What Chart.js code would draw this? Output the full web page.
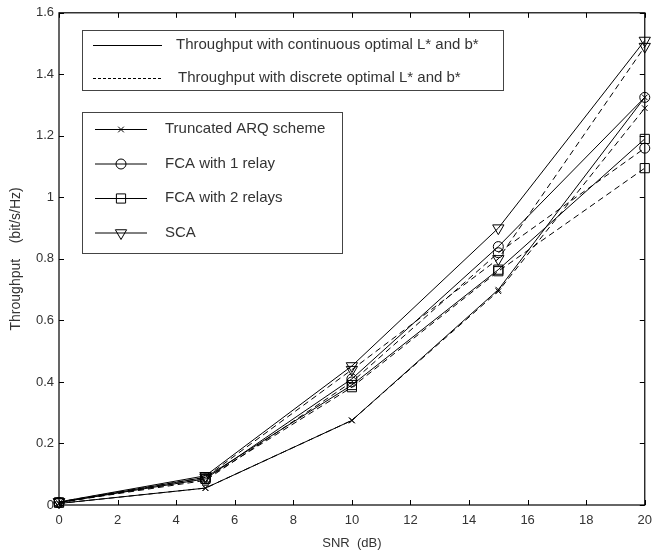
<!DOCTYPE html>
<html>
<head>
<meta charset="utf-8">
<script src="https://cdn.jsdelivr.net/npm/chart.js@4/dist/chart.umd.min.js"></script>
<style>
  html, body { margin: 0; padding: 0; background: #fff; }
  #wrap { width: 660px; height: 553px; position: relative; }
</style>
</head>
<body>
<div id="wrap"><canvas id="chart"></canvas></div>
<script>
'use strict';

/* ── data ── */
const snr        = [0, 5, 10, 15, 20];
const yTicks     = [0, 0.2, 0.4, 0.6, 0.8, 1, 1.2, 1.4, 1.6];
const xTicks     = [0, 2, 4, 6, 8, 10, 12, 14, 16, 18, 20];

const arqCont    = [0.005, 0.055, 0.275, 0.700, 1.325];
const arqDisc    = [0.005, 0.055, 0.275, 0.695, 1.290];
const fca1Cont   = [0.008, 0.085, 0.410, 0.840, 1.325];
const fca1Disc   = [0.008, 0.080, 0.400, 0.820, 1.160];
const fca2Cont   = [0.008, 0.090, 0.390, 0.765, 1.190];
const fca2Disc   = [0.008, 0.085, 0.383, 0.760, 1.095];
const scaCont    = [0.010, 0.095, 0.452, 0.900, 1.510];
const scaDisc    = [0.010, 0.090, 0.440, 0.800, 1.490];

const schemeNames = ['Truncated ARQ scheme', 'FCA with 1 relay', 'FCA with 2 relays', 'SCA'];
const styleNames  = ['Throughput with continuous optimal L* and b*', 'Throughput with discrete optimal L* and b*'];

/* ── marker styles ── */
const MARK = {
  arq:  { pointStyle: 'crossRot', radius: 4,   rotation: 0   },
  fca1: { pointStyle: 'circle',   radius: 5,   rotation: 0   },
  fca2: { pointStyle: 'rect',     radius: 6.5, rotation: 0   },
  sca:  { pointStyle: 'triangle', radius: 6.5, rotation: 180 }
};
const DASH = [6, 4];

function series(values, mark, dashed) {
  return {
    data: snr.map((x, i) => ({ x, y: values[i] })),
    borderColor: '#000',
    backgroundColor: 'transparent',
    borderWidth: 1,
    borderDash: dashed ? DASH : [],
    pointStyle: mark.pointStyle,
    pointRadius: mark.radius,
    pointRotation: mark.rotation,
    pointBorderColor: '#000',
    pointBackgroundColor: 'transparent',
    pointBorderWidth: 1,
    tension: 0,
    clip: false
  };
}

const datasets = [
  series(arqCont,  MARK.arq,  false),
  series(arqDisc,  MARK.arq,  true),
  series(fca1Cont, MARK.fca1, false),
  series(fca1Disc, MARK.fca1, true),
  series(fca2Cont, MARK.fca2, false),
  series(fca2Disc, MARK.fca2, true),
  series(scaCont,  MARK.sca,  false),
  series(scaDisc,  MARK.sca,  true)
];

const FONT = 'Liberation Sans, Arial, sans-serif';
const TXT  = '#333';

/* ── axes frame + inward ticks (MATLAB look) ── */
const framePlugin = {
  id: 'frame',
  afterDatasetsDraw(chart) {
    const { ctx, chartArea: a, scales: { x, y } } = chart;
    const T = 5;
    ctx.save();
    ctx.strokeStyle = '#000';
    ctx.lineWidth = 1.2;
    ctx.strokeRect(a.left, a.top, a.right - a.left, a.bottom - a.top);
    ctx.lineWidth = 1;
    ctx.beginPath();
    xTicks.forEach(v => {
      const px = Math.round(x.getPixelForValue(v)) + 0.5;
      ctx.moveTo(px, a.bottom); ctx.lineTo(px, a.bottom - T);
      ctx.moveTo(px, a.top);    ctx.lineTo(px, a.top + T);
    });
    yTicks.forEach(v => {
      const py = Math.round(y.getPixelForValue(v)) + 0.5;
      ctx.moveTo(a.left, py);  ctx.lineTo(a.left + T, py);
      ctx.moveTo(a.right, py); ctx.lineTo(a.right - T, py);
    });
    ctx.stroke();
    ctx.restore();
  }
};

/* ── the two legend boxes ── */
const legendPlugin = {
  id: 'boxLegend',
  afterDraw(chart) {
    const ctx = chart.ctx;
    ctx.save();
    ctx.font = '15px ' + FONT;
    ctx.textBaseline = 'middle';

    // box 1: line styles
    ctx.fillStyle = '#fff';
    ctx.fillRect(82, 30, 421, 60);
    ctx.strokeStyle = '#444';
    ctx.lineWidth = 1;
    ctx.strokeRect(82.5, 30.5, 421, 60);
    ctx.strokeStyle = '#000';
    ctx.beginPath(); ctx.moveTo(93, 45.5); ctx.lineTo(162, 45.5); ctx.stroke();
    ctx.setLineDash([3, 2]);
    ctx.beginPath(); ctx.moveTo(93, 78.5); ctx.lineTo(162, 78.5); ctx.stroke();
    ctx.setLineDash([]);
    ctx.fillStyle = TXT;
    ctx.fillText(styleNames[0], 176, 45);
    ctx.fillText(styleNames[1], 178, 78);

    // box 2: schemes
    ctx.fillStyle = '#fff';
    ctx.fillRect(82, 112, 260, 141);
    ctx.strokeStyle = '#444';
    ctx.strokeRect(82.5, 112.5, 260, 141);
    const marks = [MARK.arq, MARK.fca1, MARK.fca2, MARK.sca];
    schemeNames.forEach((name, i) => {
      const yy = 129 + i * 34.5;
      ctx.strokeStyle = '#000';
      ctx.beginPath(); ctx.moveTo(95, yy + 0.5); ctx.lineTo(147, yy + 0.5); ctx.stroke();
      ctx.fillStyle = 'rgba(0,0,0,0)';
      Chart.helpers.drawPoint(ctx, {
        pointStyle: marks[i].pointStyle,
        radius: marks[i].radius,
        rotation: marks[i].rotation,
        borderWidth: 1
      }, 121, yy + 0.5);
      ctx.fillStyle = TXT;
      ctx.fillText(name, 165, yy);
    });
    ctx.restore();
  }
};

new Chart(document.getElementById('chart'), {
  type: 'line',
  data: { datasets },
  options: {
    responsive: true,
    maintainAspectRatio: false,
    animation: false,
    events: [],
    layout: { padding: { top: 11, right: 9, left: 0, bottom: 0 } },
    plugins: { legend: { display: false }, tooltip: { enabled: false } },
    scales: {
      x: {
        type: 'linear',
        min: 0, max: 20,
        afterBuildTicks: s => { s.ticks = xTicks.map(v => ({ value: v })); },
        afterFit: s => { s.height = 48; },
        grid: { display: false, drawTicks: false },
        border: { display: false },
        ticks: { color: TXT, font: { family: FONT, size: 13 }, padding: 8, maxRotation: 0 },
        title: { display: true, text: 'SNR  (dB)', color: TXT, font: { family: FONT, size: 13 }, padding: { top: 0, bottom: 2 } }
      },
      y: {
        type: 'linear',
        min: 0, max: 1.6,
        afterBuildTicks: s => { s.ticks = yTicks.map(v => ({ value: v })); },
        afterFit: s => { s.width = 59; },
        grid: { display: false, drawTicks: false },
        border: { display: false },
        ticks: { color: TXT, font: { family: FONT, size: 13 }, padding: 5, callback: v => String(+v.toFixed(1)) },
        title: { display: true, text: 'Throughput    (bit/s/Hz)', color: TXT, font: { family: FONT, size: 14 }, padding: { top: 8, bottom: 0 } }
      }
    }
  },
  plugins: [framePlugin, legendPlugin]
});
</script>
</body>
</html>
